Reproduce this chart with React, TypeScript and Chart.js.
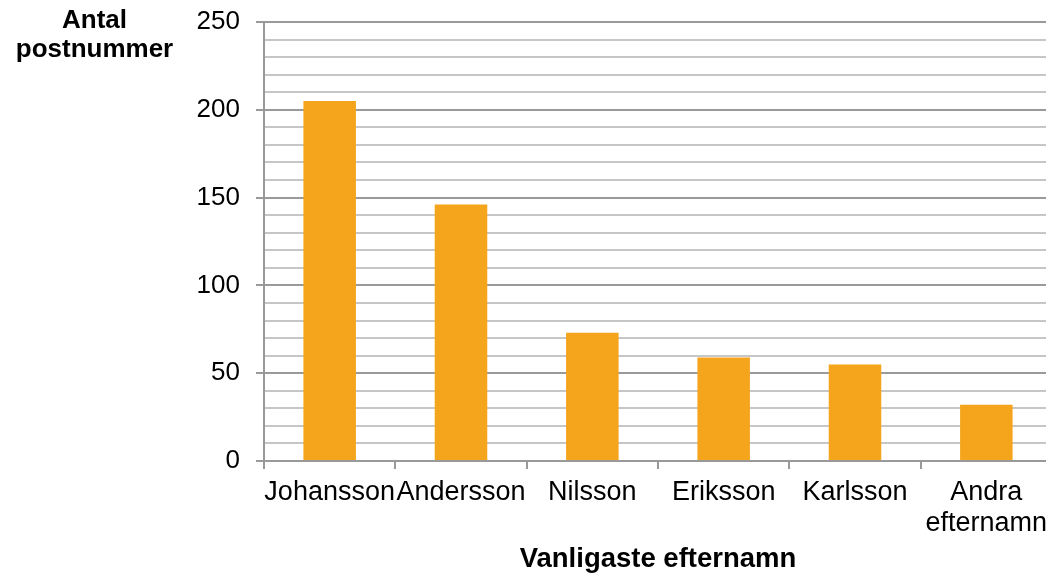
import React, { useEffect, useRef } from "react";
import { Chart, registerables } from "chart.js";

Chart.register(...registerables);

const categories: (string | string[])[] = [
  "Johansson",
  "Andersson",
  "Nilsson",
  "Eriksson",
  "Karlsson",
  ["Andra", "efternamn"],
];
const values: number[] = [205, 146, 73, 59, 55, 32];
const yTitleLines: string[] = ["Antal", "postnummer"];
const xTitle = "Vanligaste efternamn";

const FONT = "'Liberation Sans', Arial, Helvetica, sans-serif";

const yTitlePlugin = {
  id: "yTitleTopLeft",
  afterDraw(chart: any) {
    const ctx = chart.ctx;
    ctx.save();
    ctx.font = `bold 26px ${FONT}`;
    ctx.fillStyle = "#000";
    ctx.textAlign = "center";
    ctx.textBaseline = "alphabetic";
    ctx.fillText(yTitleLines[0], 94.5, 28);
    ctx.fillText(yTitleLines[1], 94.5, 57);
    ctx.restore();
  },
};

export default function App() {
  const ref = useRef<HTMLCanvasElement | null>(null);

  useEffect(() => {
    document.body.style.margin = "0";
    const canvas = ref.current!;
    const chart = new Chart(canvas, {
      type: "bar",
      data: {
        labels: categories,
        datasets: [
          {
            data: values,
            backgroundColor: "#F5A51C",
            borderWidth: 0,
            barPercentage: 0.4,
            categoryPercentage: 1,
          },
        ],
      },
      options: {
        animation: false,
        responsive: false,
        devicePixelRatio: 1,
        layout: { padding: { top: 22, left: 0, right: 0, bottom: 0 } },
        plugins: {
          legend: { display: false },
          tooltip: { enabled: false },
        },
        scales: {
          x: {
            offset: true,
            afterFit: (s: any) => {
              s.height = 116;
              s.paddingLeft = 0;
              s.paddingRight = 0;
            },
            grid: {
              offset: true,
              drawOnChartArea: false,
              drawTicks: true,
              tickLength: 8,
              color: "#999999",
              lineWidth: 2,
            },
            border: { display: true, color: "#999999", width: 2 },
            ticks: {
              color: "#000",
              padding: 8,
              maxRotation: 0,
              autoSkip: false,
              font: { family: FONT, size: 27, lineHeight: 1.15 },
            },
            title: {
              display: true,
              text: xTitle,
              color: "#000",
              padding: { top: 0, bottom: 1 },
              font: { family: FONT, size: 27.5, weight: "bold", lineHeight: 1.2 },
            },
          },
          y: {
            min: 0,
            max: 250,
            afterFit: (s: any) => {
              s.width = 264;
              s.paddingTop = 0;
              s.paddingBottom = 0;
            },
            grid: {
              color: (c: any) => (c.tick && c.tick.value % 50 === 0 ? "#9a9a9a" : "#c6c6c6"),
              tickColor: (c: any) => (c.tick && c.tick.value % 50 === 0 ? "#9a9a9a" : "rgba(0,0,0,0)"),
              lineWidth: 2,
              tickLength: 8,
            },
            border: { display: true, color: "#999999", width: 2 },
            ticks: {
              stepSize: 10,
              color: "#000",
              padding: 16,
              autoSkip: false,
              font: { family: FONT, size: 26 },
              callback: (v: any) => (Number(v) % 50 === 0 ? String(v) : ""),
            },
          },
        },
      },
      plugins: [yTitlePlugin],
    });
    return () => chart.destroy();
  }, []);

  return (
    <div
      style={{
        position: "fixed",
        left: 0,
        top: 0,
        width: 1046,
        height: 577,
        overflow: "hidden",
        background: "#fff",
      }}
    >
      <canvas ref={ref} width={1052} height={577} style={{ display: "block" }} />
    </div>
  );
}
